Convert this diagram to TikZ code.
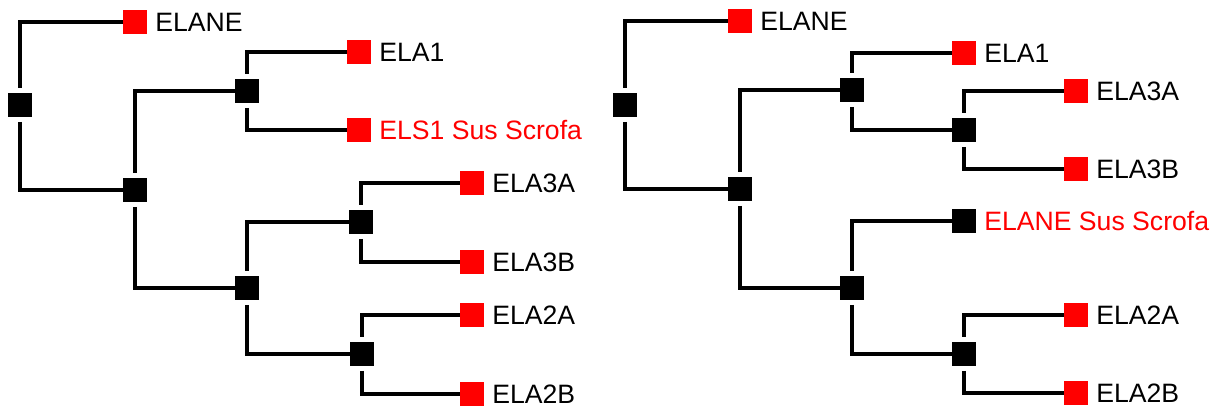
\documentclass[tikz,border=0pt]{standalone}
\usepackage{fontspec}
\setmainfont{Liberation Sans}
\usepackage{xcolor}
\usetikzlibrary{positioning}
\definecolor{leafred}{RGB}{255,0,0}
\tikzset{
  junction/.style={fill=black, minimum size=12pt, inner sep=0pt, outer sep=0pt},
  leafbox/.style={fill=leafred, minimum size=12pt, inner sep=0pt, outer sep=0pt},
  taxon/.style={inner sep=0pt, right=4pt of #1, font=\fontsize{13.3}{15}\selectfont},
  branch/.style={line width=1.9pt, shorten <=2.5pt},
}

\begin{document}
\begin{tikzpicture}[x=0.5pt, y=-0.5pt]
  \useasboundingbox (0,0) rectangle (1217,410);

  % left tree
  \node[junction] (l-root) at (20,105) {};
  \node[leafbox] (l-elane) at (135,22) {};
  \node[junction] (l-n1) at (135,190) {};
  \node[junction] (l-n2) at (247,91) {};
  \node[leafbox] (l-ela1) at (359,52) {};
  \node[leafbox] (l-els1) at (359,130) {};
  \node[junction] (l-n4) at (247,288) {};
  \node[junction] (l-n3) at (361,222) {};
  \node[leafbox] (l-ela3a) at (472,183) {};
  \node[leafbox] (l-ela3b) at (472,262) {};
  \node[junction] (l-n5) at (362,354) {};
  \node[leafbox] (l-ela2a) at (472,315) {};
  \node[leafbox] (l-ela2b) at (472,394) {};

  \node[taxon=l-elane] (l-elane-t) {ELANE};
  \node[taxon=l-ela1] (l-ela1-t) {ELA1};
  \node[taxon=l-els1, leafred] (l-els1-t) {ELS1 Sus Scrofa};
  \node[taxon=l-ela3a] (l-ela3a-t) {ELA3A};
  \node[taxon=l-ela3b] (l-ela3b-t) {ELA3B};
  \node[taxon=l-ela2a] (l-ela2a-t) {ELA2A};
  \node[taxon=l-ela2b] (l-ela2b-t) {ELA2B};

  \foreach \p/\c/\side in {root/elane/north, root/n1/south, n1/n2/north, n1/n4/south,
      n2/ela1/north, n2/els1/south, n4/n3/north, n4/n5/south,
      n3/ela3a/north, n3/ela3b/south, n5/ela2a/north, n5/ela2b/south}
    \draw[branch] (l-\p.\side) |- (l-\c.west);

  % right tree
  \node[junction] (r-root) at (625,105) {};
  \node[leafbox] (r-elane) at (740,21) {};
  \node[junction] (r-n1) at (740,189) {};
  \node[junction] (r-n2) at (852,90) {};
  \node[leafbox] (r-ela1) at (964,53) {};
  \node[junction] (r-n3) at (964,130) {};
  \node[leafbox] (r-ela3a) at (1076,91) {};
  \node[leafbox] (r-ela3b) at (1076,169) {};
  \node[junction] (r-n4) at (852,288) {};
  \node[junction] (r-scrofa) at (964,221) {};
  \node[junction] (r-n5) at (964,354) {};
  \node[leafbox] (r-ela2a) at (1076,315) {};
  \node[leafbox] (r-ela2b) at (1076,393) {};

  \node[taxon=r-elane] (r-elane-t) {ELANE};
  \node[taxon=r-ela1] (r-ela1-t) {ELA1};
  \node[taxon=r-ela3a] (r-ela3a-t) {ELA3A};
  \node[taxon=r-ela3b] (r-ela3b-t) {ELA3B};
  \node[taxon=r-scrofa, leafred] (r-scrofa-t) {ELANE Sus Scrofa};
  \node[taxon=r-ela2a] (r-ela2a-t) {ELA2A};
  \node[taxon=r-ela2b] (r-ela2b-t) {ELA2B};

  \foreach \p/\c/\side in {root/elane/north, root/n1/south, n1/n2/north, n1/n4/south,
      n2/ela1/north, n2/n3/south, n3/ela3a/north, n3/ela3b/south,
      n4/scrofa/north, n4/n5/south, n5/ela2a/north, n5/ela2b/south}
    \draw[branch] (r-\p.\side) |- (r-\c.west);
\end{tikzpicture}
\end{document}
